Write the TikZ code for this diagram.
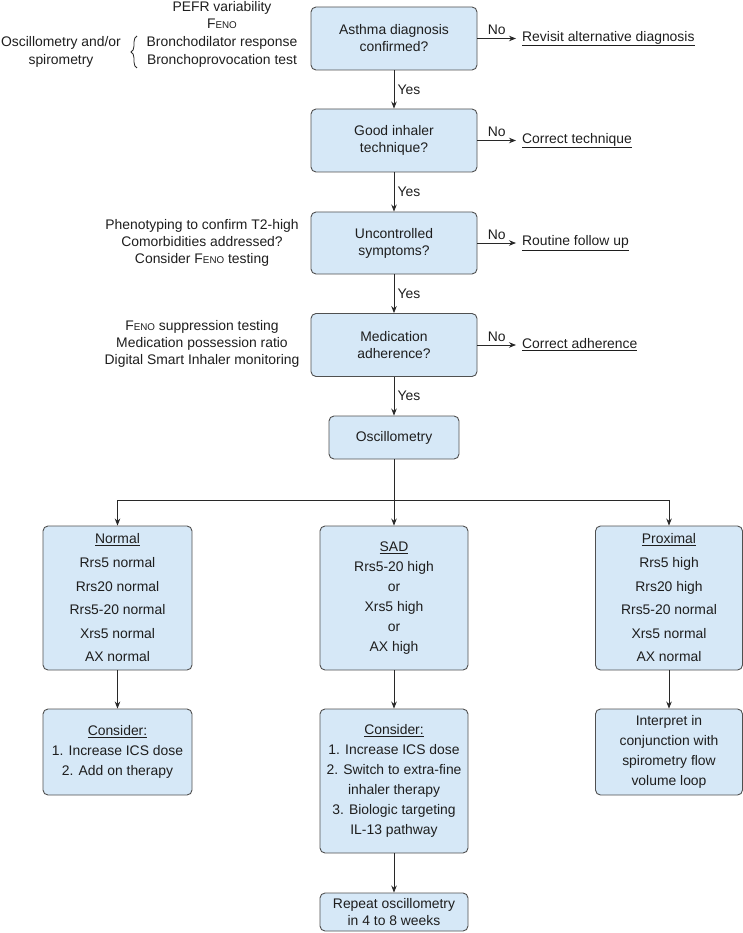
\documentclass[tikz,border=0pt]{standalone}
\usepackage{fontspec}
\setmainfont{Liberation Sans}
\usetikzlibrary{arrows.meta,decorations.pathreplacing}
\definecolor{boxfill}{RGB}{214,232,247}
\definecolor{boxline}{RGB}{80,80,80}
\definecolor{txt}{RGB}{30,30,30}
\definecolor{ln}{RGB}{40,40,40}
\newcommand{\feno}{F{\fontsize{9.8}{10}\selectfont ENO}}
\begin{document}
\begin{tikzpicture}[x=1pt,y=-1pt,
  font=\fontsize{13.9}{17}\selectfont, text=txt,
  box/.style={draw=boxline, fill=boxfill, rounded corners=5pt, line width=0.9pt, align=center, inner sep=0pt},
  arr/.style={-{Stealth[length=7pt,width=5.5pt]}, line width=0.8pt, draw=ln},
  lbl/.style={inner sep=0pt, align=center},
  sp20/.style={font=\fontsize{13.9}{20}\selectfont},
  sp24/.style={font=\fontsize{13.9}{23.6}\selectfont}
]
\useasboundingbox (0,0) rectangle (743,933);

% main column
\node[box, minimum width=166pt, minimum height=63pt] (b1) at (394,38.5) {Asthma diagnosis\\confirmed?};
\node[box, minimum width=166pt, minimum height=63pt] (b2) at (394,140.5) {Good inhaler\\technique?};
\node[box, minimum width=166pt, minimum height=62pt] (b3) at (394,243) {Uncontrolled\\symptoms?};
\node[box, minimum width=166pt, minimum height=63pt] (b4) at (394,345) {Medication\\adherence?};
\node[box, minimum width=130pt, minimum height=43pt] (osc) at (394,437.5) {Oscillometry};

\draw[arr] (b1) -- node[right]{Yes} (b2);
\draw[arr] (b2) -- node[right]{Yes} (b3);
\draw[arr] (b3) -- node[right]{Yes} (b4);
\draw[arr] (b4) -- node[right]{Yes} (osc);

% No branches
\coordinate (r1) at (516,38.5);
\coordinate (r2) at (516,140.5);
\coordinate (r3) at (516,243);
\coordinate (r4) at (516,345);
\draw[arr] (b1.east) -- node[above]{No} (r1);
\draw[arr] (b2.east) -- node[above]{No} (r2);
\draw[arr] (b3.east) -- node[above]{No} (r3);
\draw[arr] (b4.east) -- node[above]{No} (r4);
\node[lbl, anchor=west] (n1) at (522,38.5) {\underline{Revisit alternative diagnosis}};
\node[lbl, anchor=west] (n2) at (522,140.5) {\underline{Correct technique}};
\node[lbl, anchor=west] (n3) at (522,243) {\underline{Routine follow up}};
\node[lbl, anchor=west] (n4) at (522,345) {\underline{Correct adherence}};

% left side notes
\node[lbl] (t1) at (222,8) {PEFR variability};
\node[lbl] (t2) at (222,23.5) {\feno};
\node[lbl] (t3) at (222,43) {Bronchodilator response};
\node[lbl] (t4) at (222,61) {Bronchoprovocation test};
\node[lbl] (t5) at (61,43) {Oscillometry and/or};
\node[lbl] (t6) at (61,61) {spirometry};
\draw[line width=0.8pt, draw=ln, decorate, decoration={brace, amplitude=6pt}] (137,68) -- (137,36);

\node[lbl] (p3) at (202,243) {Phenotyping to confirm T2-high\\Comorbidities addressed?\\Consider \feno{} testing};
\node[lbl] (p4) at (202,344) {\feno{} suppression testing\\Medication possession ratio\\Digital Smart Inhaler monitoring};

% results row
\node[box, sp24, minimum width=149pt, minimum height=144pt] (nor) at (117.5,598) {\underline{Normal}\\Rrs5 normal\\Rrs20 normal\\Rrs5-20 normal\\Xrs5 normal\\AX normal};
\node[box, sp20, minimum width=148pt, minimum height=144pt] (sad) at (394,598) {\underline{SAD}\\Rrs5-20 high\\or\\Xrs5 high\\or\\AX high};
\node[box, sp24, minimum width=147pt, minimum height=144pt] (prox) at (669,598) {\underline{Proximal}\\Rrs5 high\\Rrs20 high\\Rrs5-20 normal\\Xrs5 normal\\AX normal};

\coordinate (split) at (394,500);
\draw[arr] (osc.south) -- (sad.north);
\draw[arr] (split) -| (nor.north);
\draw[arr] (split) -| (prox.north);

% consider row
\node[box, sp20, minimum width=149pt, minimum height=86pt] (c1) at (117.5,752) {\underline{Consider:}\\1. Increase ICS dose\\2. Add on therapy};
\node[box, sp20, minimum width=148pt, minimum height=144pt] (c2) at (394,781) {\underline{Consider:}\\1. Increase ICS dose\\2. Switch to extra-fine\\inhaler therapy\\3. Biologic targeting\\IL-13 pathway};
\node[box, sp20, minimum width=147pt, minimum height=86pt] (c3) at (669,752) {Interpret in\\conjunction with\\spirometry flow\\volume loop};
\node[box, minimum width=148pt, minimum height=38pt] (rep) at (394,912) {Repeat oscillometry\\in 4 to 8 weeks};

\draw[arr] (nor) -- (c1);
\draw[arr] (sad) -- (c2);
\draw[arr] (prox) -- (c3);
\draw[arr] (c2) -- (rep);
\end{tikzpicture}
\end{document}
